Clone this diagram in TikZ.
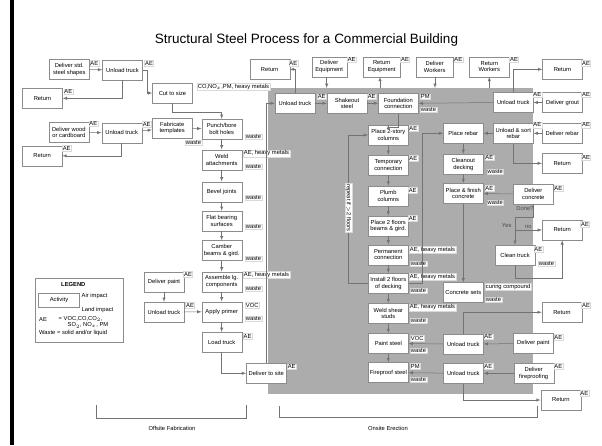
\documentclass[tikz,border=0pt]{standalone}
\usepackage{fontspec}
\setmainfont{Liberation Sans}
\usetikzlibrary{positioning}
\newcommand{\boxfont}{\fontsize{5.8}{6.6}\selectfont}
\definecolor{sitegray}{RGB}{172,172,172}

\begin{document}
\begin{tikzpicture}[x=1pt,y=-1pt,
  act/.style={draw=black!45,fill=white,inner sep=1pt,minimum width=40pt,minimum height=20pt,align=center,font=\boxfont},
  imp/.style={fill=white,draw=black!15,inner sep=0.7pt,font=\boxfont},
  note/.style={inner sep=0.5pt,font=\boxfont,text=black!70},
  flow/.style={draw=black!55,line width=0.5pt,-latex},
  link/.style={draw=black!55,line width=0.5pt}]
\useasboundingbox (0,0) rectangle (602,445);
\fill[black] (10,0) rectangle (14,445);
\fill[sitegray] (268,88) rectangle (533,394);
\node[font=\fontsize{13.5}{16}\selectfont] (title) at (306.5,40) {Structural Steel Process for a Commercial Building};

% offsite fabrication
\node[act] (dstd) at (69.3,69.3) {Deliver std.\\steel shapes};
\node[act] (unl1) at (122.5,70) {Unload truck};
\node[act] (ret1) at (42.5,98.3) {Return};
\node[act] (cut) at (172.5,93) {Cut to size};
\node[act] (dwood) at (68.8,132.5) {Deliver wood\\or cardboard};
\node[act] (unl2) at (121.7,132.7) {Unload truck};
\node[act] (ret2) at (42.2,155.8) {Return};
\node[act] (fab) at (172.2,128) {Fabricate\\templates};
\node[act] (punch) at (221.7,129) {Punch/bore\\bolt holes};
\node[act] (weld) at (221.7,159.7) {Weld\\attachments};
\node[act] (bevel) at (221.7,191.7) {Bevel joints};
\node[act] (flat) at (221.7,221) {Flat bearing\\surfaces};
\node[act] (camber) at (221.7,250.5) {Camber\\beams \& gird.};
\node[act] (assem) at (221.7,281.7) {Assemble lg.\\components};
\node[act] (dpaintA) at (164,281.7) {Deliver paint};
\node[act] (unl3) at (164,312) {Unload truck};
\node[act] (primer) at (221.7,311.7) {Apply primer};
\node[act] (load) at (221.7,342.2) {Load truck};
\node[act] (site) at (266.3,373.3) {Deliver to site};

\node[imp] (aeDstd) at (94.3,63.3) {AE};
\node[imp] (aeUnl1) at (149,63.3) {AE};
\node[imp] (aeRet1) at (68.3,91.7) {AE};
\node[imp] (aeDwood) at (93.3,124) {AE};
\node[imp] (aeUnl2) at (146.7,124.3) {AE};
\node[imp] (aeRet2) at (66.7,148.3) {AE};
\node[imp,anchor=west] (airCut) at (197,86.7) {CO,NO$_x$,PM, heavy metals};
\node[imp,anchor=west] (wFab) at (185,142.7) {waste};
\node[imp,anchor=west] (wPunch) at (245,136.7) {waste};
\node[imp,anchor=west] (airWeld) at (243,153.3) {AE, heavy metals};
\node[imp,anchor=west] (wWeld) at (245,166.7) {waste};
\node[imp,anchor=west] (wBevel) at (245,197.7) {waste};
\node[imp,anchor=west] (wFlat) at (245,226.7) {waste};
\node[imp,anchor=west] (wCamber) at (245,258.3) {waste};
\node[imp,anchor=west] (airAssem) at (243,275) {AE, heavy metals};
\node[imp,anchor=west] (wAssem) at (245,288.3) {waste};
\node[imp] (aeDpaintA) at (188,274) {AE};
\node[imp] (aeUnl3) at (190,305) {AE};
\node[imp,anchor=west] (airPrimer) at (245,305) {VOC};
\node[imp,anchor=west] (wPrimer) at (245,319) {waste};
\node[imp] (aeLoad) at (247.5,336) {AE};
\node[imp] (aeSite) at (291.7,366.7) {AE};

\draw[flow] (dstd) -- (unl1);
\draw[flow] (unl1.south) |- (ret1.east);
\draw[flow] (unl1.east) -- ++(5,0) |- (cut.west);
\draw[flow] (dwood) -- (unl2);
\draw[flow] (unl2.south) |- (ret2.east);
\draw[flow] (unl2) -- (fab);
\draw[flow] (cut.south) -- ++(0,8.7) -| (punch.north);
\draw[flow] (fab) -- (punch);
\draw[flow] (punch) -- (weld);
\draw[flow] (weld) -- (bevel);
\draw[flow] (bevel) -- (flat);
\draw[flow] (flat) -- (camber);
\draw[flow] (camber) -- (assem);
\draw[flow] (assem) -- (primer);
\draw[flow] (dpaintA) -- (unl3);
\draw[flow] (unl3) -- (primer);
\draw[flow] (primer) -- (load);
\draw[flow] (load.south) |- (site.west);

% onsite erection
\node[act] (ret3) at (269.7,69.3) {Return};
\node[act,minimum width=35pt] (deq) at (329.2,66.7) {Deliver\\Equipment};
\node[act,minimum width=37pt] (req) at (381.7,66.7) {Return\\Equipment};
\node[act,minimum width=37pt] (dwork) at (434.7,66.7) {Deliver\\Workers};
\node[act] (rwork) at (489.3,66.7) {Return\\Workers};
\node[act] (ret4) at (562.5,69.3) {Return};
\node[act] (unl4) at (295,103.3) {Unload truck};
\node[act] (shake) at (347,103.3) {Shakeout\\steel};
\node[act] (found) at (398.3,103.3) {Foundation\\connection};
\node[act] (unl5) at (513.3,102.5) {Unload truck};
\node[act] (dgrout) at (562.5,102.5) {Deliver grout};
\node[act] (cols) at (388.3,135) {Place 2-story\\columns};
\node[act] (rebar) at (463.3,133.3) {Place rebar};
\node[act] (sort) at (513.3,133.3) {Unload \& sort\\rebar};
\node[act] (drebar) at (562.2,133.3) {Deliver rebar};
\node[act] (temp) at (388.3,165) {Temporary\\connection};
\node[act] (clean) at (463.3,164.2) {Cleanout\\decking};
\node[act] (ret5) at (562.2,163.3) {Return};
\node[act] (plumb) at (388.3,195.8) {Plumb\\columns};
\node[act] (finish) at (463.3,193.3) {Place \& finish\\concrete};
\node[act] (dconc) at (533.3,194.2) {Deliver\\concrete};
\node[act] (beams) at (388.3,225.8) {Place 2 floors\\beams \& gird.};
\node[act] (ret6) at (562.2,230) {Return};
\node[act] (ctruck) at (515,255) {Clean truck};
\node[act] (perm) at (388.3,254.7) {Permanent\\connection};
\node[act] (deck) at (388.3,283.3) {Install 2 floors\\of decking};
\node[act] (sets) at (463.3,292.5) {Concrete sets};
\node[act] (studs) at (388.3,313.3) {Weld shear\\studs};
\node[act] (ret7) at (562,312.2) {Return};
\node[act] (paint) at (388.3,343.3) {Paint steel};
\node[act] (unl6) at (463.3,344.2) {Unload truck};
\node[act] (dpaintB) at (533.3,343.3) {Deliver paint};
\node[act] (fire) at (388.3,372.5) {Fireproof steel};
\node[act] (unl7) at (463.3,373.3) {Unload truck};
\node[act] (dfire) at (533.7,373.3) {Deliver\\fireproofing};
\node[act] (ret8) at (560.8,400) {Return};

\node[imp] (aeRet3) at (293.3,63.3) {AE};
\node[imp] (aeDeq) at (351.7,60) {AE};
\node[imp] (aeReq) at (405,60) {AE};
\node[imp] (aeDwork) at (458.3,60) {AE};
\node[imp] (aeRwork) at (514,60) {AE};
\node[imp] (aeRet4) at (586,63.3) {AE};
\node[imp] (aeUnl4) at (321.7,96.7) {AE};
\node[imp] (aeShake) at (371.7,96.7) {AE};
\node[imp,anchor=west] (pmFound) at (420,96.7) {PM};
\node[imp,anchor=west] (wFound) at (420,110) {waste};
\node[imp] (aeUnl5) at (537.3,95) {AE};
\node[imp] (aeDgrout) at (586,95) {AE};
\node[imp] (aeCols) at (413.3,128.3) {AE};
\node[imp] (aeSort) at (537.3,125) {AE};
\node[imp] (aeDrebar) at (586,125) {AE};
\node[imp] (aeTemp) at (413.3,158.3) {AE};
\node[imp] (aeClean) at (489.3,157.7) {AE};
\node[imp,anchor=west] (wClean) at (486.7,171.7) {waste};
\node[imp] (aeRet5) at (586,157.7) {AE};
\node[imp] (aePlumb) at (412.7,190) {AE};
\node[imp] (aeFinish) at (489.3,188.3) {AE};
\node[imp,anchor=west] (wFinish) at (486.7,202.3) {waste};
\node[imp] (aeDconc) at (558.3,188.3) {AE};
\node[imp] (aeBeams) at (412.7,218.3) {AE};
\node[imp] (aeRet6) at (585,224) {AE};
\node[imp] (aeCtruck) at (538.3,249.3) {AE};
\node[imp,anchor=west] (wCtruck) at (538,263.3) {waste};
\node[imp,anchor=west] (airPerm) at (409,250) {AE, heavy metals};
\node[imp,anchor=west] (wPerm) at (410,263.3) {waste};
\node[imp,anchor=west] (airDeck) at (409,276.7) {AE, heavy metals};
\node[imp,anchor=west] (wDeck) at (410,290.7) {waste};
\node[imp,anchor=west] (cureSets) at (485,286.7) {curing compound};
\node[imp,anchor=west] (wSets) at (485,300) {waste};
\node[imp,anchor=west] (airStuds) at (409,307.3) {AE, heavy metals};
\node[imp,anchor=west] (wStuds) at (410,320.7) {waste};
\node[imp] (aeRet7) at (586,305) {AE};
\node[imp,anchor=west] (airPaint) at (410,338.3) {VOC};
\node[imp,anchor=west] (wPaint) at (410,350.7) {waste};
\node[imp] (aeUnl6) at (488.3,336.7) {AE};
\node[imp] (aeDpaintB) at (558.3,337.3) {AE};
\node[imp,anchor=west] (pmFire) at (410,366) {PM};
\node[imp,anchor=west] (wFire) at (410,380) {waste};
\node[imp] (aeUnl7) at (488.3,366) {AE};
\node[imp] (aeDfire) at (558.3,366) {AE};
\node[imp] (aeRet8) at (584.3,393.3) {AE};

\coordinate (eqIn) at (326.7,88);
\coordinate (eqOut) at (380,88);
\coordinate (wkIn) at (435,88);
\coordinate (wkOut) at (489.3,88);
\coordinate (done) at (515,230);

\draw[flow] (site.north) |- (unl4.west);
\draw[flow] (unl4.north) |- (ret3.east);
\draw[flow] (deq.south -| eqIn) -- (eqIn);
\draw[flow] (eqOut) -- (eqOut |- req.south);
\draw[flow] (dwork.south -| wkIn) -- (wkIn);
\draw[flow] (wkOut) -- (rwork.south);
\draw[flow] (unl4) -- (shake);
\draw[flow] (shake) -- (found);
\draw[flow] (found.south) -- ++(0,14) -| (cols.north);
\draw[flow] (cols) -- (temp);
\draw[flow] (temp) -- (plumb);
\draw[flow] (plumb) -- (beams);
\draw[flow] (beams) -- (perm);
\draw[flow] (perm) -- (deck);
\draw[flow] (deck) -- (studs);
\draw[flow] (studs) -- (paint);
\draw[flow] (paint) -- (fire);
\draw[flow] (deck.west) -- ++(-20,0) |- (cols.west);
\node[imp,rotate=-90] (repeat) at (348.3,208) {repeat if $>$2 floors};
\draw[flow] (deck.east) -- ++(13.4,0) |- (rebar.west);
\draw[flow] (dgrout) -- (unl5);
\draw[flow] (unl5.north) |- (ret4.west);
\draw[flow] (unl5.west) -- (found.east);
\draw[flow] (drebar) -- (sort);
\draw[flow] (sort) -- (rebar);
\draw[flow] (sort.south) |- (ret5.west);
\draw[flow] (rebar) -- (clean);
\draw[flow] (clean) -- (finish);
\draw[flow] (finish) -- (sets);
\draw[flow] (dconc) -- (finish);
\draw[link] (dconc.south) -- ++(0,13.3) -| (done);
\draw[flow] (done) -- (ctruck.north);
\draw[flow] (done) -- (ret6.west);
\draw[flow] (ctruck.south) -- ++(0,13.3) -| (ret6.south);
\node[note] (doneQ) at (525,208.5) {Done?};
\node[note] (doneYes) at (506.7,225.7) {Yes};
\node[note] (doneNo) at (528.3,226.7) {no};
\draw[flow] (dpaintB) -- (unl6);
\draw[flow] (unl6) -- (paint);
\draw[flow] (dfire) -- (unl7);
\draw[flow] (unl7) -- (fire);
\draw[flow] (unl6.north) |- (ret7.west);
\draw[flow] (unl7.south) |- (ret8.west);

% brackets
\draw[link] (96.7,405) -- (96.7,418) -- (246,418) -- (246,405);
\draw[link] (279.3,406) -- (279.3,417.3) -- (537.3,417.3) -- (537.3,406);
\node[font=\boxfont] (offsite) at (172,428.5) {Offsite Fabrication};
\node[font=\boxfont] (onsite) at (388,428.5) {Onsite Erection};

% legend
\node[draw=black!45,minimum width=88pt,minimum height=64pt] (legend) at (79.2,310.5) {};
\node[font=\boxfont\bfseries] (legendT) at (73.3,284.5) {LEGEND};
\node[act,minimum width=41pt,minimum height=14pt] (legAct) at (59,300) {Activity};
\node[font=\boxfont,anchor=west,inner sep=0.5pt] (legAir) at (81,295.5) {Air impact};
\node[font=\boxfont,anchor=west,inner sep=0.5pt] (legLand) at (81,310) {Land impact};
\node[font=\boxfont,anchor=west,inner sep=0.5pt] (legAE) at (38.5,319) {AE};
\node[font=\boxfont,anchor=west,inner sep=0.5pt] (legAE2) at (58,319) {= VOC,CO,CO$_2$,};
\node[font=\boxfont,anchor=west,inner sep=0.5pt] (legAE3) at (67,325.5) {SO$_2$, NO$_x$, PM};
\node[font=\boxfont,anchor=west,inner sep=0.5pt] (legW) at (38.5,333.3) {Waste = solid and/or liquid};
\end{tikzpicture}
\end{document}
